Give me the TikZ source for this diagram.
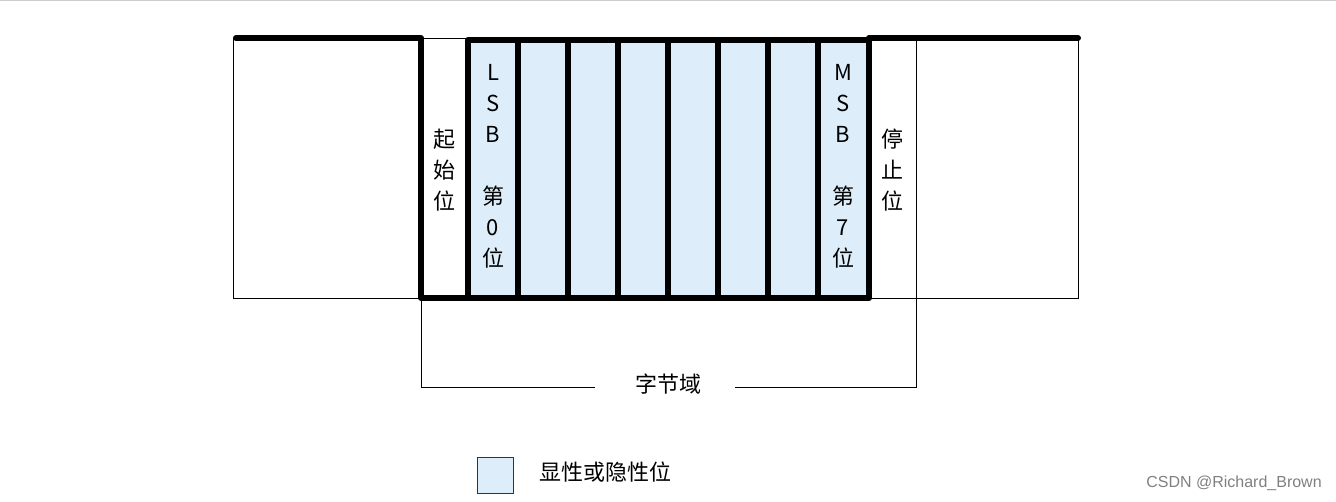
\documentclass[tikz,border=0pt]{standalone}
\usepackage{fontspec}
\setmainfont{Liberation Sans}
\newfontfamily\cjk{Noto Sans CJK SC}
\definecolor{cellblue}{HTML}{DDEEFA}
\begin{document}
\begin{tikzpicture}[x=0.75pt,y=-0.75pt,
  thin line/.style={draw=black,line width=0.75pt},
  thick line/.style={draw=black,line width=4.5pt,line cap=round,line join=round},
  cell/.style={fill=cellblue,draw=gray!70,line width=0.6pt},
  lbl/.style={font=\fontsize{16.5}{23.5}\selectfont\cjk,align=center,inner sep=0pt}]
\useasboundingbox (0,0) rectangle (1336,501);
\draw[gray!40,line width=0.75pt] (0,0.5) -- (1336,0.5);
% thin boxes
\draw[thin line] (233,38) rectangle (420,298);
\draw[thin line] (869,38) rectangle (1078,298);
\draw[thin line] (420,38) -- (468,38);
% cells
\foreach \i in {0,...,7}{
  \fill[cell] ({470+\i*50},41) rectangle ({516+\i*50},296);
}
\foreach \i in {1,...,7}{
  \draw[black,line width=4.5pt] ({468+\i*50},40) -- ({468+\i*50},298);
}
\draw[thick line] (468,298) -- (468,40) -- (869,40);
\draw[thick line] (236,38) -- (421,38) -- (421,298) -- (869,298) -- (869,38) -- (1078,38);
% labels
\node[lbl] (start) at (444,170) {起\\始\\位};
\node[lbl] (stop) at (892,170) {停\\止\\位};
\node[lbl,font=\fontsize{16.5}{23.2}\selectfont\cjk] (lsb) at (493,166) {L\\S\\B\\[23.2pt]第\\0\\位};
\node[lbl,font=\fontsize{16.5}{23.2}\selectfont\cjk] (msb) at (843,166) {M\\S\\B\\[23.2pt]第\\7\\位};
% byte field bracket
\node[lbl] (byte) at (668,384) {字节域};
\coordinate (bl) at (421,298);
\coordinate (br) at (916,38);
\draw[thin line] (bl) -- (421,387) -- (595,387);
\draw[thin line] (br) -- (916,387) -- (735,387);
% legend
\node[cell,draw=black!80,minimum width=27.5pt,minimum height=27.5pt,inner sep=0pt] (leg) at (495.5,475.5) {};
\node[lbl,anchor=west] (legt) at (539,472) {显性或隐性位};
\node[font=\fontsize{12}{14}\selectfont,text=gray,anchor=east,inner sep=0pt] (wm) at (1322,483) {CSDN @Richard\_Brown};
\end{tikzpicture}
\end{document}
